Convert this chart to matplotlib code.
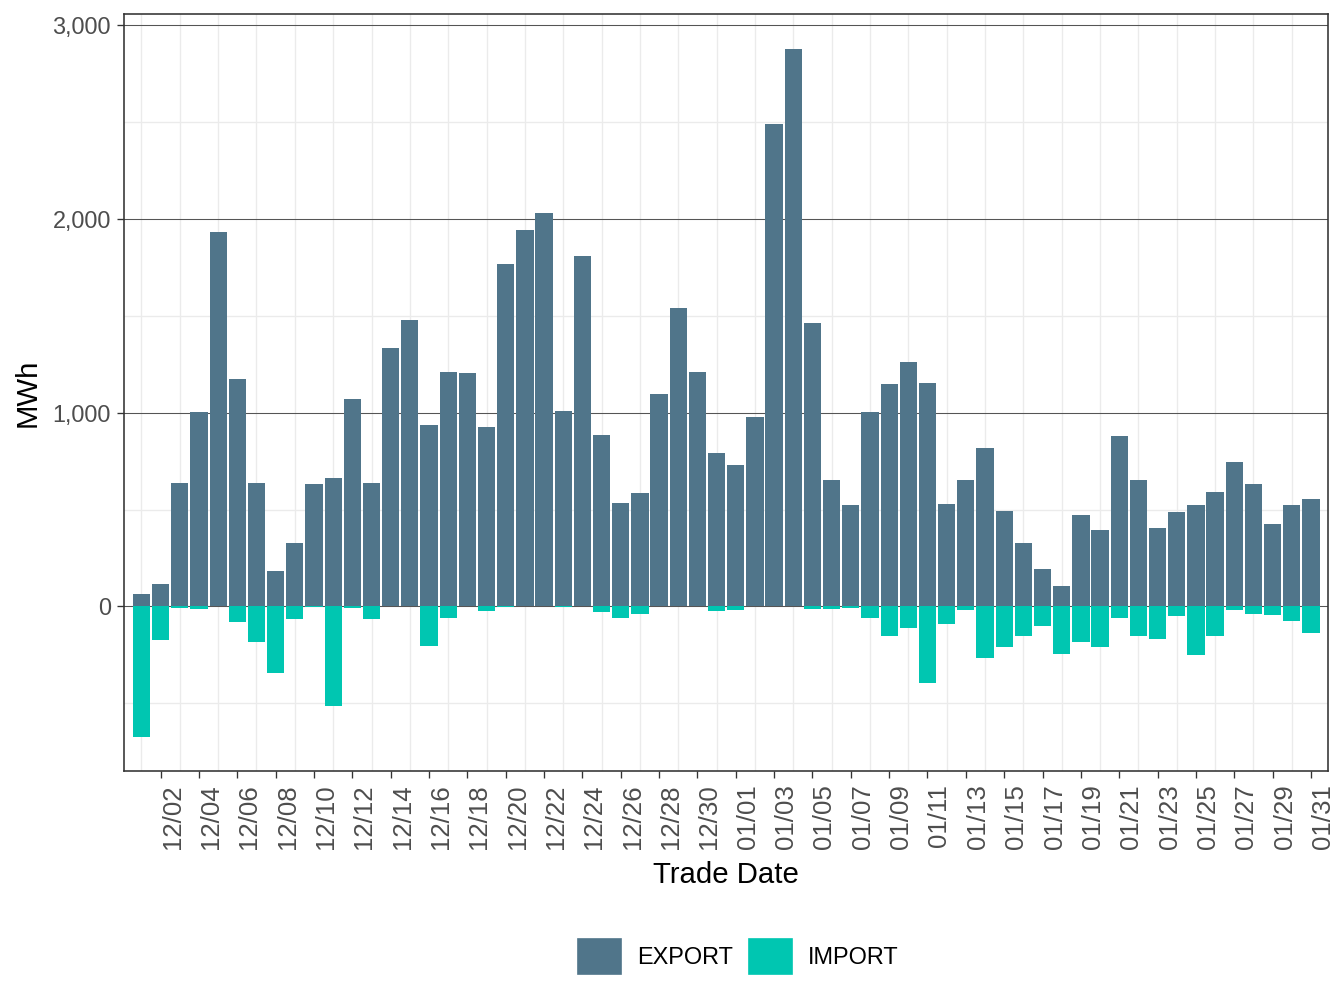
import matplotlib
matplotlib.use("Agg")
import matplotlib.pyplot as plt
import matplotlib.patches as mpatches
from matplotlib.ticker import FixedLocator, FuncFormatter
import numpy as np
import pandas as pd

plt.rcParams['font.family'] = ['Liberation Sans', 'DejaVu Sans']

# trade dates 12/01 .. 01/31
trade_dates = pd.date_range("2023-12-01", "2024-01-31", freq="D")

export_mwh = [62, 117, 635, 1005, 1930, 1175, 635, 185, 330, 630,
              665, 1072, 635, 1335, 1480, 937, 1212, 1207, 927, 1765,
              1945, 2032, 1010, 1810, 887, 535, 587, 1097, 1542, 1212,
              790, 732, 980, 2490, 2877, 1465, 655, 525, 1005, 1150,
              1262, 1155, 530, 655, 820, 490, 330, 195, 107, 470,
              392, 882, 650, 407, 485, 525, 592, 747, 630, 427,
              525, 552]
import_mwh = [-672, -172, -10, -15, 0, -82, -185, -345, -67, -2,
              -515, -10, -67, 0, 0, -202, -57, 0, -25, -5,
              0, 0, -5, 0, -27, -62, -37, 0, 0, 0,
              -25, -20, 0, 0, 0, -15, -15, -10, -62, -150,
              -112, -397, -92, -20, -267, -207, -150, -100, -247, -185,
              -207, -57, -150, -170, -47, -252, -155, -20, -37, -42,
              -77, -135]

EXPORT_COL = "#50758A"
IMPORT_COL = "#00C6B1"


def main():
    x = np.arange(1, len(trade_dates) + 1)

    fig = plt.figure(figsize=(7, 5.25), dpi=192)
    ax = fig.add_axes([124 / 1344, 1 - 771 / 1008, (1328 - 124) / 1344, (771 - 14) / 1008])

    ax.bar(x, export_mwh, width=0.9, color=EXPORT_COL, zorder=3)
    ax.bar(x, import_mwh, width=0.9, color=IMPORT_COL, zorder=3)

    ax.set_xlim(0.09, len(x) + 0.89)
    ax.set_ylim(-849, 3057)

    # grid: dark major y, light minor y and light minor x (odd days)
    ax.yaxis.set_major_locator(FixedLocator([0, 1000, 2000, 3000]))
    ax.yaxis.set_minor_locator(FixedLocator([-500, 500, 1500, 2500]))
    ax.yaxis.set_major_formatter(FuncFormatter(lambda v, p: f"{int(v):,}"))
    ax.grid(True, which='major', axis='y', color='#555555', linewidth=0.4, zorder=1)
    ax.grid(True, which='minor', axis='y', color='#EBEBEB', linewidth=0.5, zorder=0)

    ax.set_xticks(x[1::2])
    ax.set_xticklabels([d.strftime("%m/%d") for d in trade_dates[1::2]],
                       rotation=90, ha='left', fontsize=9.7)
    ax.set_xticks(x[0::2], minor=True)
    ax.grid(True, which='minor', axis='x', color='#EBEBEB', linewidth=0.5, zorder=0)
    ax.set_axisbelow(True)

    ax.tick_params(axis='both', which='major', length=2.75, width=0.5, color='#333333',
                   labelcolor='#4D4D4D', pad=2.2)
    ax.tick_params(axis='y', which='major', labelsize=8.8)
    ax.tick_params(axis='both', which='minor', length=0)

    for s in ax.spines.values():
        s.set_color('#333333')
        s.set_linewidth(0.6)

    ax.set_xlabel("Trade Date", fontsize=11, labelpad=4.5)
    ax.set_ylabel("MWh", fontsize=11, labelpad=4)

    handles = [mpatches.Patch(color=EXPORT_COL, label="EXPORT"),
               mpatches.Patch(color=IMPORT_COL, label="IMPORT")]
    fig.legend(handles=handles, loc='center', bbox_to_anchor=(0.5495, 0.0516), ncol=2,
               frameon=False, fontsize=8.8, handlelength=1.8, handleheight=1.8,
               handletextpad=0.72, columnspacing=0.68, borderpad=0)

    fig.savefig("out.png", dpi=192)


main()
